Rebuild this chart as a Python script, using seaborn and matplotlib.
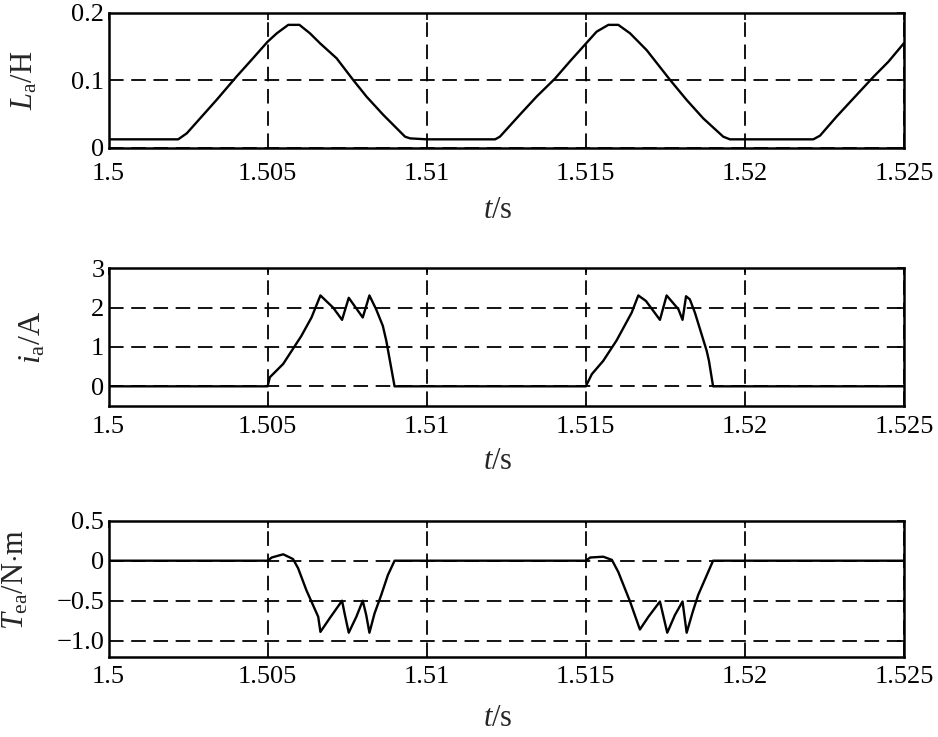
import numpy as np
import pandas as pd
import matplotlib
matplotlib.use("Agg")
import matplotlib.pyplot as plt
import seaborn as sns

# ---------------- data ----------------
t_L = [1.5, 1.50219, 1.50246, 1.50288, 1.5034, 1.50403, 1.50455, 1.505, 1.50529,
       1.50565, 1.506, 1.50633, 1.50665, 1.50717, 1.50769, 1.50811, 1.50864,
       1.50932, 1.50948, 1.51, 1.51215, 1.5123, 1.51293, 1.51346, 1.51403,
       1.51451, 1.51501, 1.51534, 1.51571, 1.51602, 1.51639, 1.51691, 1.51765,
       1.51817, 1.51869, 1.51932, 1.51953, 1.52215, 1.52236, 1.52288, 1.52341,
       1.52404, 1.52451, 1.525]
L_a = [0.0124, 0.0124, 0.0213, 0.0435, 0.071, 0.1057, 0.133, 0.157, 0.1695,
       0.182, 0.182, 0.1695, 0.1546, 0.1324, 0.1003, 0.0756, 0.0484,
       0.0163, 0.0138, 0.0124, 0.0124, 0.0163, 0.049, 0.076, 0.1023,
       0.1284, 0.1546, 0.1719, 0.182, 0.182, 0.1695, 0.1447, 0.1003,
       0.0707, 0.0435, 0.0163, 0.0124, 0.0124, 0.0178, 0.046, 0.073,
       0.105, 0.1274, 0.155]

t_i = [1.5, 1.505, 1.50507, 1.50549, 1.50606, 1.50638, 1.50666, 1.50706, 1.50734,
       1.50755, 1.50799, 1.5082, 1.50841, 1.50862, 1.50873, 1.50899,
       1.515, 1.51519, 1.51555, 1.51597, 1.51644, 1.51665, 1.51689, 1.51733,
       1.51754, 1.51791, 1.51804, 1.51815, 1.51827, 1.51843, 1.5188, 1.51887,
       1.519, 1.525]
i_a = [0.0, 0.0, 0.23, 0.57, 1.28, 1.75, 2.31, 2.0, 1.69,
       2.25, 1.75, 2.31, 1.96, 1.54, 1.16, 0.0,
       0.0, 0.31, 0.65, 1.17, 1.87, 2.31, 2.17, 1.69,
       2.31, 1.96, 1.69, 2.29, 2.21, 1.87, 0.9, 0.65,
       0.0, 0.0]

t_T = [1.5, 1.505, 1.50513, 1.50549, 1.5057, 1.5058, 1.50596, 1.50622, 1.50659,
       1.50666, 1.50695, 1.50734, 1.50742, 1.50755, 1.50779, 1.50799, 1.5081,
       1.5082, 1.50836, 1.50857, 1.50878, 1.50899,
       1.515, 1.51514, 1.51555, 1.51582, 1.51602, 1.51639, 1.5167, 1.51697,
       1.51733, 1.51756, 1.5178, 1.51804, 1.51817, 1.51836, 1.51853, 1.519, 1.525]
T_ea = [0.0, 0.0, 0.04, 0.08, 0.04, 0.02, -0.095, -0.37, -0.70,
        -0.89, -0.72, -0.5, -0.66, -0.9, -0.70, -0.5, -0.68,
        -0.90, -0.66, -0.43, -0.18, 0.0,
        0.0, 0.04, 0.05, 0.01, -0.14, -0.51, -0.86, -0.70,
        -0.51, -0.90, -0.68, -0.51, -0.90, -0.64, -0.43, 0.0, 0.0]

x_ticks = [1.5, 1.505, 1.51, 1.515, 1.52, 1.525]
x_ticklabels = ["1.5", "1.505", "1.51", "1.515", "1.52", "1.525"]
L_ticks = [0, 0.1, 0.2]
L_ticklabels = ["0", "0.1", "0.2"]
i_ticks = [0, 1, 2, 3]
i_ticklabels = ["0", "1", "2", "3"]
T_ticks = [-1.0, -0.5, 0, 0.5]
T_ticklabels = ["\u22121.0", "\u22120.5", "0", "0.5"]

ylabels = [r"$L_{\mathrm{a}}$/H", r"$i_{\mathrm{a}}$/A", r"$T_{\mathrm{ea}}$/N$\cdot$m"]
xlabel = r"$t$/s"

# ---------------- style ----------------
sns.set_theme(style="white")
plt.rcParams["font.family"] = ["Liberation Serif", "DejaVu Serif"]
plt.rcParams["mathtext.fontset"] = "custom"
plt.rcParams["mathtext.rm"] = "Liberation Serif"
plt.rcParams["mathtext.it"] = "Liberation Serif:italic"
plt.rcParams["mathtext.bf"] = "Liberation Serif:bold"
plt.rcParams["lines.scale_dashes"] = False

W, H = 938, 737
fig = plt.figure(figsize=(W / 100, H / 100), dpi=100)
left, right = 108.5, 904.0

def fr(top_px, bot_px):
    return [left / W, 1 - bot_px / H, (right - left) / W, (bot_px - top_px) / H]

geo = [(12.7, 147.7), (268.3, 406.0), (520.7, 656.7)]
axes = [fig.add_axes(fr(a, b)) for a, b in geo]

# (t, values, ylim, yticks, yticklabels, ylabel x px, ylabel y frac, xlabel dy px, ylabel size, x pad)
panels = [
    (t_L, L_a, (0, 0.2), L_ticks, L_ticklabels, 24.5, 0.5, 211 - 147.7, 22, 11),
    (t_i, i_a, (-0.5, 3), i_ticks, i_ticklabels, 33.0, 0.5, 461 - 406.0, 23, 7),
    (t_T, T_ea, (-1.2, 0.5), T_ticks, T_ticklabels, 16.0, 0.57, 718 - 656.7, 22, 7),
]

for k, (ax, (tx, yv, ylim, yt, ytl, ylab_x, ylab_y, xlab_dy, ylfs, xpad)) in enumerate(zip(axes, panels)):
    df = pd.DataFrame({"t": tx, "v": yv})
    sns.lineplot(data=df, x="t", y="v", ax=ax, color="black", linewidth=1.7,
                 sort=False, estimator=None, zorder=3)
    ax.set_xlim(1.5, 1.525)
    ax.set_ylim(*ylim)
    ax.set_xticks(x_ticks)
    ax.set_xticklabels(x_ticklabels)
    ax.set_yticks(yt)
    ax.set_yticklabels(ytl)
    ax.grid(True, color="black", linestyle=(0, (10.5, 5.5)), linewidth=1.3)
    ax.set_axisbelow(True)
    for s in ax.spines.values():
        s.set_visible(True)
        s.set_color("black")
        s.set_linewidth(1.8)
    ax.tick_params(direction="in", top=True, right=True, length=5, width=1.2,
                   labelsize=19, colors="black")
    ax.tick_params(axis="x", pad=xpad)
    ax.tick_params(axis="y", pad=3)
    ax.set_xlabel(xlabel, fontsize=22, va="center")
    ax.set_ylabel(ylabels[k], fontsize=ylfs, va="center")
    h = geo[k][1] - geo[k][0]
    ax.xaxis.set_label_coords(0.5 - 8 / (right - left), -xlab_dy / h)
    ax.yaxis.set_label_coords((ylab_x - left) / (right - left), ylab_y)

fig.savefig("out.png", dpi=100, facecolor="white")
